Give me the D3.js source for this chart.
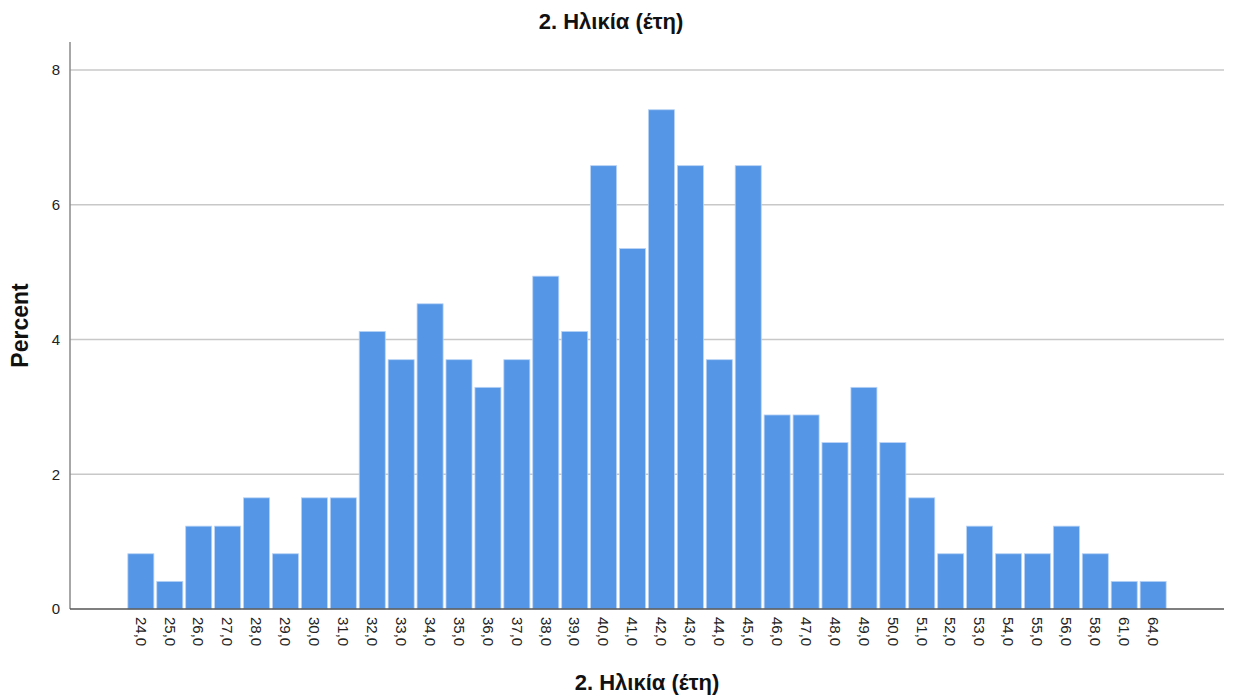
<!DOCTYPE html>
<html><head><meta charset="utf-8">
<script src="https://cdn.jsdelivr.net/npm/d3@7"></script>
<style>body{margin:0;background:#fff;font-family:"Liberation Sans",Arial,sans-serif;}</style>
</head><body><svg id="c" width="1234" height="700"></svg>
<script>
const categories = ["24,0","25,0","26,0","27,0","28,0","29,0","30,0","31,0","32,0","33,0","34,0","35,0","36,0","37,0","38,0","39,0","40,0","41,0","42,0","43,0","44,0","45,0","46,0","47,0","48,0","49,0","50,0","51,0","52,0","53,0","54,0","55,0","56,0","58,0","61,0","64,0"];
const percents = [0.82,0.41,1.23,1.23,1.65,0.82,1.65,1.65,4.12,3.70,4.53,3.70,3.29,3.70,4.94,4.12,6.58,5.35,7.41,6.58,3.70,6.58,2.88,2.88,2.47,3.29,2.47,1.65,0.82,1.23,0.82,0.82,1.23,0.82,0.41,0.41];
const yTicks = [0,2,4,6,8];
const title = "2. Ηλικία (έτη)";
const xTitle = "2. Ηλικία (έτη)";
const yTitle = "Percent";

const svg = d3.select("#c");
const L = 70, R = 1224, T = 42, B = 609;
const x = d3.scaleBand().domain(categories).range([L, R]).paddingInner(0.1).paddingOuter(2);
const y = d3.scaleLinear().domain([0, 8]).range([B, 70]);

// gridlines
svg.append("g").selectAll("line").data(yTicks.filter(d=>d>0)).join("line")
  .attr("x1", L).attr("x2", R).attr("y1", d=>y(d)).attr("y2", d=>y(d))
  .attr("stroke", "#c8c8c8").attr("stroke-width", 1.5);

// y axis
const ya = svg.append("g").attr("transform", `translate(${L},0)`)
  .call(d3.axisLeft(y).tickValues(yTicks).tickSize(0).tickPadding(10));
ya.select(".domain").remove();
ya.attr("font-size", 15);
ya.selectAll("text").attr("font-family","Liberation Sans, Arial, sans-serif").attr("font-size", 15).attr("fill","#222");
svg.append("line").attr("x1", L).attr("x2", L).attr("y1", T).attr("y2", B)
  .attr("stroke", "#8a8a8a").attr("stroke-width", 1.5);

// bars
svg.append("g").selectAll("rect").data(percents).join("rect")
  .attr("x", (d,i)=>x(categories[i])).attr("width", x.bandwidth())
  .attr("y", d=>y(d)).attr("height", d=>B - y(d))
  .attr("fill", "#5596e6").attr("stroke", "#b9d3f5").attr("stroke-width", 0.8);

// x axis
const xa = svg.append("g").attr("transform", `translate(0,${B})`)
  .call(d3.axisBottom(x).tickSize(0).tickPadding(0));
xa.select(".domain").remove();
xa.attr("font-size", 15);
xa.selectAll("text")
  .attr("font-family","Liberation Sans, Arial, sans-serif").attr("font-size", 15).attr("fill","#222")
  .attr("transform", "rotate(90)").attr("text-anchor", "start")
  .attr("x", 8).attr("y", 0).attr("dy", "0.35em");
svg.append("line").attr("x1", L).attr("x2", R).attr("y1", B).attr("y2", B)
  .attr("stroke", "#555").attr("stroke-width", 1.5);

// titles
svg.append("text").attr("x", 611).attr("y", 29).attr("text-anchor","middle")
  .attr("font-size", 22).attr("font-weight","bold").attr("fill","#111").text(title);
svg.append("text").attr("x", 647).attr("y", 690).attr("text-anchor","middle")
  .attr("font-size", 22).attr("font-weight","bold").attr("fill","#111").text(xTitle);
svg.append("text").attr("transform", `translate(28,${(T+B)/2}) rotate(-90)`).attr("text-anchor","middle")
  .attr("font-size", 23).attr("font-weight","bold").attr("fill","#111").text(yTitle);
</script></body></html>
